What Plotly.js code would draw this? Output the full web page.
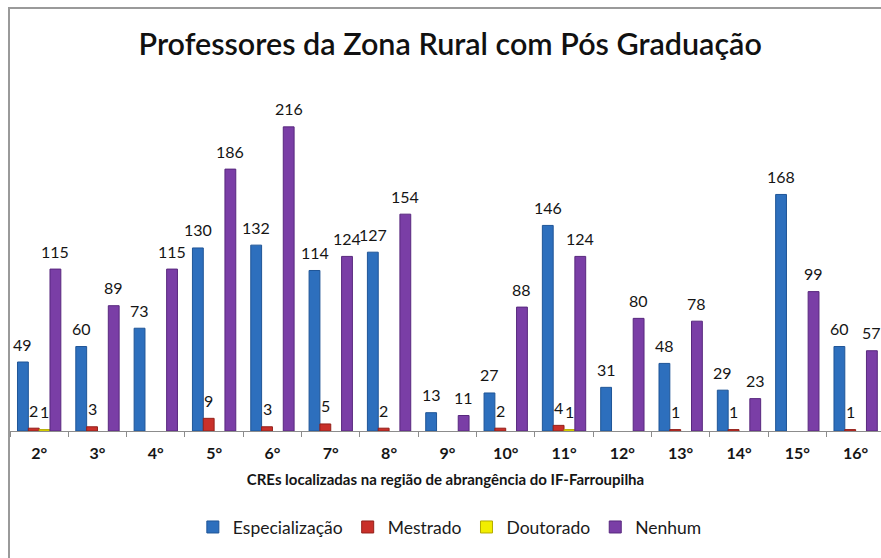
<!DOCTYPE html>
<html>
<head>
<meta charset="utf-8">
<script src="https://cdn.plot.ly/plotly-3.0.1.min.js"></script>
<style>
html,body{margin:0;padding:0;background:#fff;overflow:hidden;}
#wrap{position:relative;width:881px;height:558px;overflow:hidden;}
#chart{position:absolute;left:0;top:0;width:881px;height:558px;}
#border{position:absolute;left:8px;top:7px;width:900px;height:600px;border-left:2px solid #9a9a9a;border-top:2px solid #9a9a9a;pointer-events:none;}
</style>
</head>
<body>
<div id="wrap"><div id="chart"></div><div id="border"></div></div>
<script>
const categories = ["2°","3°","4°","5°","6°","7°","8°","9°","10°","11°","12°","13°","14°","15°","16°"];
const seriesNames = ["Especialização","Mestrado","Doutorado","Nenhum"];
const especializacao = [49,60,73,130,132,114,127,13,27,146,31,48,29,168,60];
const mestrado = [2,3,null,9,3,5,2,null,2,4,null,1,1,null,1];
const doutorado = [1,null,null,null,null,null,null,null,null,1,null,null,null,null,null];
const nenhum = [115,89,115,186,216,124,154,11,88,124,80,78,23,99,57];

const FONT = "Lato, 'Open Sans', sans-serif";
const colors = ["#2d6fbd","#c9302a","#f2ee00","#7a3ea6"];
const lines  = ["#1f5597","#93201a","#b5ac00","#58287e"];
const allSeries = [especializacao, mestrado, doutorado, nenhum];

const data = allSeries.map((vals, i) => ({
  type:"bar", name:seriesNames[i], x:categories, y:vals,
  marker:{color:colors[i], line:{color:lines[i], width:1}},
  hoverinfo:"x+y+name"
}));

// value labels above bars (positions come from the axis scales)
const bargap = 0.257;
const catPx = 58.3;
const slotPx = catPx * (1 - bargap) / 4;
const annotations = [];
allSeries.forEach((vals, i) => {
  vals.forEach((v, j) => {
    if (v === null) return;
    annotations.push({
      x: categories[j], y: v, xref:"x", yref:"y",
      text: String(v), showarrow:false,
      xanchor:"center", yanchor:"middle",
      xshift: (i - 1.5) * slotPx, yshift: 18,
      font:{family:FONT, size:16, color:"#151515"}
    });
  });
});

const layout = {
  width:881, height:558,
  margin:{l:10, r:0, t:79, b:127},
  paper_bgcolor:"#ffffff", plot_bgcolor:"#ffffff",
  barmode:"group", bargap:bargap, bargroupgap:0,
  title:{text:"Professores da Zona Rural com Pós Graduação", x:0.511, xanchor:"center", y:0.92, yanchor:"middle",
         font:{family:FONT, size:30.5, color:"#111", weight:600}},
  xaxis:{
    type:"category", range:[-0.5, 14.435],
    showline:true, linecolor:"#8c8c8c", linewidth:1,
    ticks:"outside", tickson:"boundaries", ticklen:5, tickcolor:"#8c8c8c",
    ticklabelstandoff:8,
    tickfont:{family:FONT, size:16, color:"#151515", weight:700},
    title:{text:"CREs localizadas na região de abrangência do IF-Farroupilha", standoff:13,
           font:{family:FONT, size:15, color:"#151515", weight:700}},
    showgrid:false, zeroline:false
  },
  yaxis:{range:[0,250], visible:false, showgrid:false, zeroline:false},
  annotations: annotations,
  showlegend:true,
  legend:{orientation:"h", x:0.505, xanchor:"center", y:-0.273, yanchor:"middle",
          font:{family:FONT, size:17.5, color:"#1a1a1a"}, traceorder:"normal", itemwidth:30},
  font:{family:FONT}
};
Plotly.newPlot("chart", data, layout, {displayModeBar:false, staticPlot:true});
</script>
</body>
</html>
